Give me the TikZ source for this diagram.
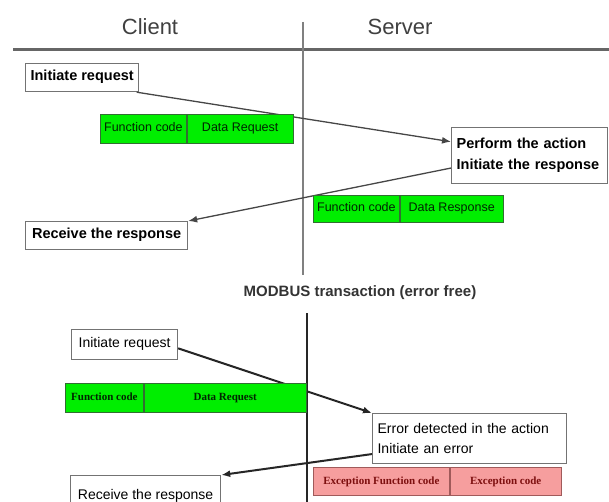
\documentclass[tikz,border=0pt]{standalone}
\usepackage{fontspec}
\setmainfont{Liberation Sans}
\newfontfamily\pktserif{Liberation Serif}
\usetikzlibrary{arrows.meta}
\definecolor{boxgray}{RGB}{115,115,115}
\definecolor{pktgreen}{RGB}{0,238,0}
\definecolor{pktgreenedge}{RGB}{50,110,50}
\definecolor{pktred}{RGB}{246,158,158}
\definecolor{pktrededge}{RGB}{160,90,90}
\definecolor{pktredtext}{RGB}{125,15,15}
\definecolor{linegray}{RGB}{70,70,70}

\begin{document}
\begin{tikzpicture}[x=1pt,y=-1pt,
    msgbox/.style={draw=boxgray, line width=1.2pt, fill=white, inner xsep=5pt, inner ysep=0pt, anchor=north west, align=left},
    topfont/.style={font=\fontsize{14.5}{21}\selectfont\bfseries},
    botfont/.style={font=\fontsize{14}{20}\selectfont},
    pkt/.style={draw=pktgreenedge, line width=0.8pt, fill=pktgreen, inner sep=0pt, anchor=north west, text=green!15!black, font=\fontsize{12.5}{14}\selectfont, text height=0.72em, text depth=0.2em},
    pktbot/.style={pkt, font=\fontsize{11}{13}\pktserif\bfseries},
    pktexc/.style={pktbot, draw=pktrededge, fill=pktred, text=pktredtext},
    msg/.style={draw=linegray, line width=1.3pt, -{Latex[length=9pt,width=7pt]}},
    errmsg/.style={msg, draw=black!85, line width=2pt}
  ]
  \useasboundingbox (0,0) rectangle (609,502);
  % headings and lifelines
  \node[font=\fontsize{22}{26}\selectfont, text=black!75] (client) at (150,27) {Client};
  \node[font=\fontsize{22}{26}\selectfont, text=black!75] (server) at (400,27) {Server};
  \draw[line width=3pt, draw=black!60] (13,50) -- (609,50);
  \draw[line width=1.2pt, draw=black!50] (303,22) -- (303,275);
  \node[font=\fontsize{15}{18}\selectfont\bfseries, text=black!80] (title) at (360,293) {MODBUS transaction (error free)};
  \draw[line width=2.2pt, draw=black!85] (307,313) -- (307,505);

  % error free transaction
  \node[msgbox, topfont, minimum width=113pt, minimum height=28pt, text height=0.72em, text depth=0.22em] (init1) at (25,63) {Initiate request};
  \node[msgbox, topfont, text width=146pt, minimum height=56pt] (perform) at (451,127) {Perform the action\\Initiate the response};
  \node[msgbox, topfont, minimum width=162pt, minimum height=28pt, text height=0.72em, text depth=0.22em] (recv1) at (25,221) {Receive the response};
  \draw[msg] (init1.-15) -- (perform.170);
  \draw[msg] (perform.189) -- (recv1.north east);
  \node[pkt, minimum width=86pt, minimum height=29pt] (fcreq) at (100,114) {Function code};
  \node[pkt, minimum width=106pt, minimum height=29pt] (dreq) at (fcreq.north east) {Data Request};
  \node[pkt, minimum width=86pt, minimum height=27pt] (fcres) at (313,195) {Function code};
  \node[pkt, minimum width=103pt, minimum height=27pt] (dres) at (fcres.north east) {Data Response};

  % exception transaction
  \node[msgbox, botfont, minimum width=106pt, minimum height=30pt, text height=0.72em, text depth=0.22em] (init2) at (71,329) {Initiate request};
  \node[msgbox, botfont, text width=184pt, minimum height=50pt] (error) at (372,413) {Error detected in the action\\Initiate an error};
  \node[msgbox, botfont, minimum width=150pt, minimum height=42pt, text height=0.72em, text depth=0.22em] (recv2) at (70,475) {Receive the response};
  \draw[errmsg] (init2.-4) -- (error.north west);
  \draw[errmsg] (error.189) -- (recv2.north east);
  \node[pktbot, minimum width=78pt, minimum height=29pt] (fcerr) at (65,383) {Function code};
  \node[pktbot, minimum width=162pt, minimum height=29pt] (derr) at (fcerr.north east) {Data Request};
  \node[pktexc, minimum width=136pt, minimum height=28pt] (excfc) at (313,467) {Exception Function code};
  \node[pktexc, minimum width=111pt, minimum height=28pt] (exccode) at (excfc.north east) {Exception code};
\end{tikzpicture}
\end{document}
